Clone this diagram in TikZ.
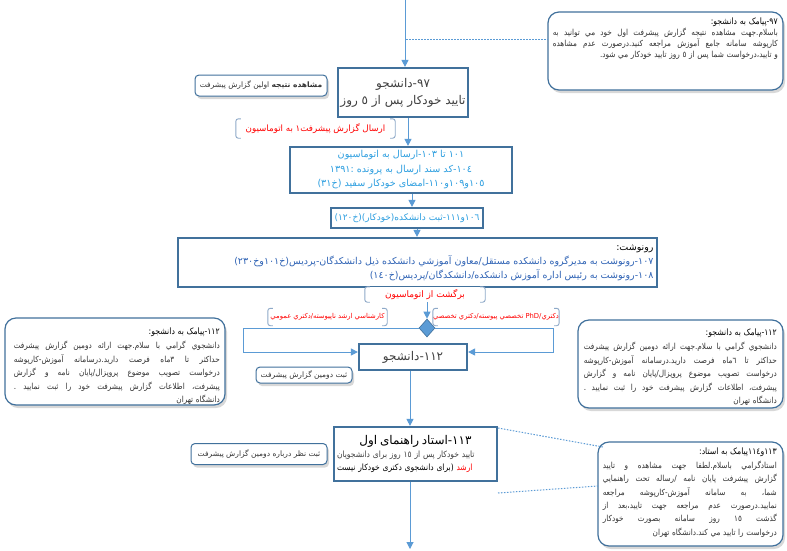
\documentclass[tikz,border=0pt]{standalone}
\usepackage{fontspec}
\newfontfamily\ar[Script=Arabic]{DejaVu Sans}
\newfontfamily\arc[Script=Arabic,FakeStretch=0.88]{DejaVu Sans}
\TeXXeTstate=1
\usetikzlibrary{arrows.meta,shadows,shapes.geometric}
\definecolor{bdr}{HTML}{41719C}
\definecolor{ln}{HTML}{5B9BD5}
\definecolor{txt}{HTML}{404040}
\definecolor{bl}{HTML}{2F63B5}
\definecolor{cy}{HTML}{2E9FE0}
\definecolor{rd}{HTML}{FF0000}
\definecolor{brk}{HTML}{8EA9C8}
\definecolor{ttl}{HTML}{333333}
\newcommand\RL[1]{\beginR#1\endR}
\newcommand\JL[1]{\hbox to\hsize{\beginR#1\endR}}
\newcommand\RR[1]{\hbox to\hsize{\hfil\beginR#1\endR}}
\newcommand\LLn[1]{\hbox to\hsize{\beginR#1\endR\hfil}}
\newcommand\CC[1]{\hbox to\hsize{\hfil\beginR#1\endR\hfil}}
\newcommand\stack[3]{\vbox{\hsize=#1\baselineskip=#2\spaceskip=0.32em plus 1.5em minus 0.05em\relax #3}}
\tikzset{
  mainbox/.style={draw=bdr, line width=2.2pt, fill=white, inner sep=2pt, align=center},
  callbox/.style={draw=bdr, line width=1.2pt, rounded corners=11pt, fill=white,
     drop shadow={opacity=0.3, shadow xshift=2pt, shadow yshift=-3pt}},
  lblbox/.style={draw=bdr, line width=1pt, rounded corners=4pt, fill=white, inner sep=1pt,
     drop shadow={opacity=0.3, shadow xshift=2pt, shadow yshift=-3pt}, text=ttl,
     font=\ar\fontsize{7.5}{9}\selectfont},
  calltxt/.style={inner sep=0pt, text=bl, font=\arc\fontsize{8.3}{10.8}\selectfont},
  arr/.style={draw=ln, line width=1pt, -{Triangle[width=7pt,length=7pt]}},
  dotl/.style={draw=ln, line width=1pt, dash pattern=on 1.5pt off 1.5pt},
  redlbl/.style={inner sep=0pt, text=rd, font=\ar\fontsize{8.7}{10}\selectfont},
  brkline/.style={draw=brk, line width=0.9pt, rounded corners=2.5pt}
}
\newcommand\ctitle[1]{\RR{\textcolor{ttl}{\fontsize{8.8}{10}\selectfont #1}}}
\newcommand\brackets[1]{%
  \draw[brkline] ([xshift=5pt]#1.north west) -- (#1.north west) -- (#1.south west) -- ([xshift=5pt]#1.south west);
  \draw[brkline] ([xshift=-5pt]#1.north east) -- (#1.north east) -- (#1.south east) -- ([xshift=-5pt]#1.south east);}
\begin{document}
\begin{tikzpicture}[x=1pt,y=-1pt,font=\ar]
\useasboundingbox (0,0) rectangle (787,550);
\fill[white] (0,0) rectangle (787,550);

% ---------- main boxes
\node[mainbox, minimum width=130, minimum height=49, text=txt,
      font=\ar\fontsize{12}{17}\selectfont] (b97) at (403,92.5)
  {\RL{٩٧-دانشجو}\\\RL{تایید خودکار پس از ٥ روز}};
\node[mainbox, minimum width=222, minimum height=46, text=cy,
      font=\ar\fontsize{9.6}{14.5}\selectfont] (b101) at (401,170)
  {\RL{١٠١ تا ١٠٣-ارسال به اتوماسیون}\\\RL{١٠٤-کد سند ارسال به پرونده :١٣٩١}\\\RL{١٠٥و١٠٩و١١٠-امضای خودکار سفید (خ٣١)}};
\node[mainbox, minimum width=152, minimum height=20, text=cy,
      font=\ar\fontsize{9}{11}\selectfont] (b106) at (407,218)
  {\RL{١٠٦و١١١-ثبت دانشکده(خودکار)(خ١٢٠)}};
\node[mainbox, minimum width=479, minimum height=49, text=cy,
      font=\ar\fontsize{9.5}{14}\selectfont] (b107) at (417.5,262.5)
  {\stack{472pt}{14pt}{\RR{\textcolor{bl}{رونوشت:}}\RR{١٠٧-رونوشت به  مدیرگروه دانشکده مستقل/معاون آموزشي دانشکده ذیل دانشکدگان-پردیس(خ١٠١وخ٢٣٠)}\RR{١٠٨-رونوشت به رئیس اداره آموزش دانشکده/دانشکدگان/پردیس(خ١٤٠)}}};
\node[diamond, fill=ln, draw=bdr, line width=0.6pt, minimum width=16, minimum height=18, inner sep=0pt] (dia) at (427,328) {};
\node[mainbox, minimum width=108, minimum height=26, text=txt,
      font=\ar\fontsize{12}{14}\selectfont] (b112) at (413,357)
  {\RL{١١٢-دانشجو}};
\node[mainbox, minimum width=163, minimum height=54, text=bl, inner sep=0pt,
      font=\arc\fontsize{8.6}{12.5}\selectfont] (b113) at (415.5,454)
  {\stack{157pt}{13pt}{\CC{\textcolor{txt}{\ar\fontsize{12}{16}\selectfont ١١٣-استاد راهنمای اول}}\LLn{تایید خودکار پس از ١٥ روز برای دانشجویان}\LLn{ارشد \textcolor{rd}{(برای دانشجوی دکتری خودکار نیست}}}};

% ---------- side labels
\node[lblbox, minimum width=132, minimum height=21] (l97) at (261,85.5)
  {\RL{{\bfseries مشاهده نتیجه} اولین گزارش پیشرفت}};
\node[lblbox, minimum width=96, minimum height=16] (l112) at (304,375)
  {\RL{ثبت دومین گزارش پیشرفت}};
\node[lblbox, minimum width=136, minimum height=21] (l113) at (259,454)
  {\RL{ثبت نظر درباره دومین گزارش پیشرفت}};

% ---------- callouts
\node[callbox, minimum width=235, minimum height=78] (c97) at (665.5,51) {};
\node[calltxt, anchor=north east] (c97t) at (778,18)
  {\stack{225pt}{11pt}{\ctitle{٩٧-پیامک به دانشجو:}
   \JL{باسلام.جهت مشاهده نتیجه گزارش پیشرفت اول خود مي توانيد به}
   \JL{کارپوشه سامانه جامع آموزش مراجعه کنید.درصورت عدم مشاهده}
   \RR{و تایید،درخواست شما پس از ٥ روز تایید خودکار مي شود.}}};

\node[callbox, minimum width=220, minimum height=87] (c112l) at (115,361.5) {};
\node[calltxt, anchor=north east] (c112lt) at (220,328)
  {\stack{206pt}{13.6pt}{\ctitle{١١٢-پیامک به دانشجو:}
   \JL{دانشجوي گرامي با سلام.جهت ارائه دومین گزارش پیشرفت}
   \JL{حداکثر تا ٣ماه فرصت دارید.درسامانه آموزش-کارپوشه}
   \JL{درخواست تصویب موضوع پروپزال/پایان نامه و گزارش}
   \JL{پیشرفت، اطلاعات گزارش پیشرفت خود را ثبت نمایید .}
   \RR{دانشگاه تهران}}};

\node[callbox, minimum width=205, minimum height=88] (c112r) at (680.5,364) {};
\node[calltxt, anchor=north east] (c112rt) at (777,329)
  {\stack{193pt}{13.6pt}{\ctitle{١١٢-پیامک به دانشجو:}
   \JL{دانشجوي گرامي با سلام.جهت ارائه دومین گزارش پیشرفت}
   \JL{حداکثر تا ٦ماه فرصت دارید.درسامانه آموزش-کارپوشه}
   \JL{درخواست تصویب موضوع پروپزال/پایان نامه و گزارش}
   \JL{پیشرفت، اطلاعات گزارش پیشرفت خود را ثبت نمایید .}
   \RR{دانشگاه تهران}}};

\node[callbox, minimum width=185, minimum height=104] (c113) at (690.5,494) {};
\node[calltxt, anchor=north east] (c113t) at (777,448)
  {\stack{174pt}{13.4pt}{\ctitle{١١٣و١١٤پیامک به استاد:}
   \JL{استادگرامي باسلام.لطفا جهت مشاهده و تایید}
   \JL{گزارش پیشرفت پایان نامه /رساله تحت راهنمايي}
   \JL{شما، به سامانه آموزش-کارپوشه مراجعه}
   \JL{نمایید.درصورت عدم مراجعه جهت تایید،بعد از}
   \JL{گذشت ١٥ روز سامانه بصورت خودکار}
   \RR{درخواست را تایید مي کند.دانشگاه تهران}}};

% ---------- connectors
\coordinate (t0) at (405,0);
\coordinate (x1) at (408,0);
\coordinate (x2) at (412,0);
\coordinate (x3) at (417,0);
\coordinate (x4) at (427,0);
\coordinate (x5) at (410,0);
\coordinate (lb) at (243,352);
\coordinate (rb) at (553,352);
\coordinate (bot) at (410,549);
\coordinate (d1) at (406,39);
\draw[arr] (t0) -- (t0 |- b97.north);
\draw[arr] (b97.south -| x1) -- (b101.north -| x1);
\draw[arr] (b101.south -| x2) -- (b106.north -| x2);
\draw[arr] (b106.south -| x3) -- (b107.north -| x3);
\draw[arr] (b107.south -| x4) -- (dia.north);
\draw[arr] (dia.west) -- (dia.west -| lb) -- (lb) -- (b112.west |- lb);
\draw[arr] (dia.east) -- (dia.east -| rb) -- (rb) -- (b112.east |- rb);
\draw[arr] (b112.south -| x5) -- (b113.north -| x5);
\draw[arr] (b113.south -| bot) -- (bot);
\draw[dotl] (d1) -- (c97.west |- d1);
\coordinate (e1) at (498,428);
\coordinate (e2) at (498,493);
\coordinate (e3) at (603,447);
\coordinate (e4) at (598,486);
\draw[dotl] (e1) -- (e3);
\draw[dotl] (e2) -- (e4);

% ---------- red bracket labels
\node[redlbl, minimum width=159, minimum height=19] (r1) at (315.5,128.5)
  {\RL{ارسال گزارش پیشرفت١ به اتوماسیون}};
\brackets{r1}
\node[redlbl, fill=white, minimum width=120, minimum height=15, font=\ar\fontsize{9}{10}\selectfont] (r2) at (425,294.5)
  {\RL{برگشت از اتوماسیون}};
\brackets{r2}
\node[redlbl, minimum width=119, minimum height=17, font=\ar\fontsize{6.8}{8}\selectfont] (r3) at (327.5,317)
  {\RL{کارشناسي ارشد ناپیوسته/دکتري عمومي}};
\brackets{r3}
\node[redlbl, minimum width=120, minimum height=17, font=\ar\fontsize{6.8}{8}\selectfont] (r4) at (496,317)
  {\RL{PhD/دکتري تخصصي پیوسته/دکتري تخصصي}};
\brackets{r4}
\end{tikzpicture}
\end{document}
